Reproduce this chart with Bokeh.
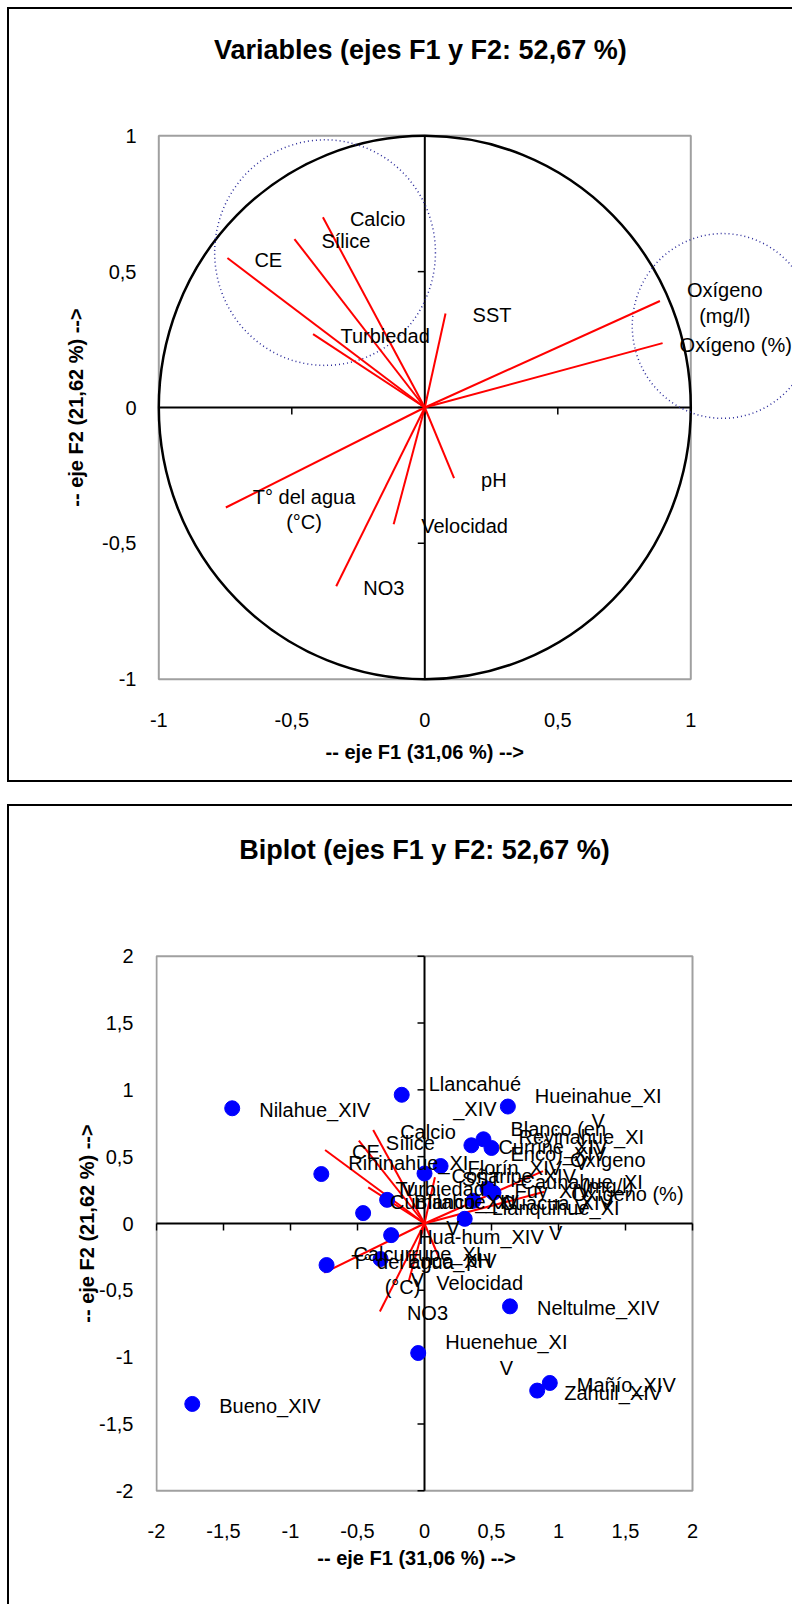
from bokeh.plotting import figure
from bokeh.models import Range1d, FixedTicker, ColumnDataSource, Title
from bokeh.layouts import column
from bokeh.embed import file_html
from bokeh.resources import INLINE
from bokeh.core.properties import value

# ---------------- data ----------------
var_names = ["CE", "Sílice", "Calcio", "Turbiedad", "SST", "Oxígeno (mg/l)",
             "Oxígeno (%)", "pH", "Velocidad", "NO3", "T° del agua (°C)"]
var_labels = ["CE", "Sílice", "Calcio", "Turbiedad", "SST", "Oxígeno\n(mg/l)",
              "Oxígeno (%)", "pH", "Velocidad", "NO3", "T° del agua\n(°C)"]
var_f1 = [-0.742, -0.49, -0.383, -0.42, 0.078, 0.884, 0.894, 0.11, -0.117, -0.333, -0.748]
var_f2 = [0.55, 0.62, 0.70, 0.27, 0.346, 0.392, 0.237, -0.26, -0.43, -0.658, -0.368]

obs_labels = ["Nilahue_XIV", "Llancahué\n_XIV", "Hueinahue_XI\nV", "Blanco (en\nEnco)_XIV",
              "Reyinahue_XI\nV", "Curriñe_XIV", "Florín_XIV", "Rininahue_XI\nV",
              "Coñaripe_XIV", "Caunahue_XI\nV", "Cuacua_XIV", "Llanquihue_XI\nV",
              "Blanco_XIV", "Cumilahue_XI\nV", "Hua-hum_XIV", "Calcurrupe_XI\nV",
              "Enco_XIV", "Neltulme_XIV", "Huenehue_XI\nV", "Mañío_XIV", "Zahuil_XIV",
              "Bueno_XIV", "Fuy_XIV"]
obs_f1 = [-1.435, -0.17, 0.622, 0.44, 0.50, 0.35, 0.12, -0.77,
          0.0, 0.515, 0.366, 0.30, -0.279, -0.458, -0.249, -0.731,
          -0.328, 0.638, -0.047, 0.935, 0.841, -1.733, 0.47]
obs_f2 = [0.862, 0.963, 0.875, 0.63, 0.565, 0.585, 0.43, 0.37,
          0.374, 0.23, 0.17, 0.035, 0.177, 0.078, -0.087, -0.311,
          -0.266, -0.62, -0.969, -1.193, -1.25, -1.35, 0.26]

# highlighted groups on the correlation circle (centre x, centre y, radius)
grp_x = [-0.375, 1.12]
grp_y = [0.57, 0.30]
grp_r = [0.415, 0.34]

ticks1 = [-1, -0.5, 0, 0.5, 1]
ticks2 = [-2, -1.5, -1, -0.5, 0, 0.5, 1, 1.5, 2]

title1 = "Variables (ejes F1  y F2: 52,67 %)"
title2 = "Biplot (ejes F1 y F2: 52,67 %)"
xlab = "-- eje F1 (31,06 %) -->"
ylab = "-- eje F2 (21,62 %) -->"

# ---------------- helpers ----------------
FONT = "Liberation Sans"
FS = 20
W = {' ': 278, '(': 333, ')': 333, '%': 889, ',': 278, '-': 333, '.': 278, '/': 278,
     ':': 278, '_': 556, '°': 400, 'í': 278, 'é': 556, 'ñ': 556, 'ú': 556, 'ó': 556, 'á': 556,
     'A': 667, 'B': 667, 'C': 722, 'D': 722, 'E': 667, 'F': 611, 'G': 778, 'H': 722, 'I': 278,
     'J': 500, 'K': 667, 'L': 556, 'M': 833, 'N': 722, 'O': 778, 'P': 667, 'Q': 778, 'R': 722,
     'S': 667, 'T': 611, 'U': 722, 'V': 667, 'W': 944, 'X': 667, 'Y': 667, 'Z': 611,
     'a': 556, 'b': 556, 'c': 500, 'd': 556, 'e': 556, 'f': 278, 'g': 556, 'h': 556, 'i': 222,
     'j': 222, 'k': 500, 'l': 222, 'm': 833, 'n': 556, 'o': 556, 'p': 556, 'q': 556, 'r': 333,
     's': 500, 't': 278, 'u': 556, 'v': 500, 'w': 722, 'x': 500, 'y': 500, 'z': 500}
WB = {' ': 278, '(': 333, ')': 333, '%': 889, ',': 278, '-': 333, ':': 333, '>': 584,
      'B': 722, 'F': 611, 'V': 667, 'a': 556, 'b': 611, 'e': 556, 'i': 278, 'j': 278,
      'l': 278, 'o': 611, 'p': 611, 'r': 389, 's': 556, 't': 333, 'y': 556}


def text_w(s, fs=FS):
    return max(sum(W.get(c, 556) for c in line) for line in s.split("\n")) * fs / 1000.0


def bold_w(s, fs):
    return sum(WB.get(c, 556) for c in s) * fs / 1000.0


def fmt(t):
    return ("%g" % t).replace(".", ",")


LABEL_GAP = 27  # px between a point / arrow tip and its label
FIG_W = 785
LEFT = 146
BORDER = "2px solid black"


def make_fig(height, xr, yr, borders, ticks, xstand, ystand, ylab_stand):
    t, b = borders
    p = figure(width=FIG_W, height=height, x_range=Range1d(*xr), y_range=Range1d(*yr),
               output_backend="svg", toolbar_location=None, title=None,
               min_border_left=LEFT, min_border_right=0, min_border_top=t, min_border_bottom=b)
    p.grid.visible = False
    p.outline_line_color = None
    for ax in (p.xaxis[0], p.yaxis[0]):
        ax.ticker = FixedTicker(ticks=ticks)
        ax.major_label_overrides = {tk: fmt(tk) for tk in ticks}
        ax.axis_line_color = None
        ax.major_tick_line_color = None
        ax.major_tick_out = 0
        ax.major_tick_in = 0
        ax.minor_tick_line_color = None
        ax.major_label_text_font = FONT
        ax.major_label_text_font_size = "%dpx" % FS
        ax.major_label_text_color = "black"
    p.xaxis.major_label_standoff = xstand
    p.yaxis.major_label_standoff = ystand
    p.yaxis.axis_label = ylab
    p.yaxis.axis_label_text_font = FONT
    p.yaxis.axis_label_text_font_size = "20px"
    p.yaxis.axis_label_text_font_style = "bold"
    p.yaxis.axis_label_text_color = "black"
    p.yaxis.axis_label_standoff = ylab_stand
    lo, hi = ticks[0], ticks[-1]
    p.quad(left=[lo], right=[hi], bottom=[lo], top=[hi], fill_color=None,
           line_color="#a0a0a0", line_width=2)
    return p


def add_titles(p, x0_px, title, gap_above, xlabel_center_px, xlstand):
    # empty spacer keeps the title away from the plot area
    p.add_layout(Title(text=" ", text_font_size="1px", standoff=gap_above - 3), "above")
    p.add_layout(Title(text=title, align="left", offset=x0_px - bold_w(title, 27) / 2.0,
                       standoff=10, text_font=FONT, text_font_size="27px",
                       text_font_style="bold", text_color="black"), "above")
    p.add_layout(Title(text=xlab, align="left",
                       offset=xlabel_center_px - bold_w(xlab, 20) / 2.0,
                       standoff=xlstand, text_font=FONT, text_font_size="20px",
                       text_font_style="bold", text_color="black"), "below")


def center_axes(p, ticks, pxu_x, pxu_y):
    lo, hi = ticks[0], ticks[-1]
    p.segment(x0=[lo, 0], y0=[0, lo], x1=[hi, 0], y1=[0, hi], line_color="black", line_width=2)
    tl_y = 7.0 / pxu_y
    tl_x = 7.0 / pxu_x
    p.segment(x0=ticks, y0=[0] * len(ticks), x1=ticks, y1=[-tl_y] * len(ticks),
              line_color="black", line_width=1.5)
    p.segment(x0=[0] * len(ticks), y0=ticks, x1=[-tl_x] * len(ticks), y1=ticks,
              line_color="black", line_width=1.5)


def labels(p, xs, ys, texts, gaps=None):
    if gaps is None:
        gaps = [LABEL_GAP] * len(texts)
    src = ColumnDataSource(dict(x=xs, y=ys, text=texts,
                                xo=[g + text_w(s) / 2.0 for g, s in zip(gaps, texts)]))
    p.text(x="x", y="y", text="text", source=src, x_offset="xo", y_offset=2,
           text_align="center", text_baseline="middle", text_font=value(FONT),
           text_font_size="%dpx" % FS, text_color="black", text_line_height=1.15)


def vectors(p):
    p.segment(x0=[0] * len(var_f1), y0=[0] * len(var_f2), x1=var_f1, y1=var_f2,
              line_color="red", line_width=2)


# ---------------- panel 1: correlation circle ----------------
px1 = 266.0
x1r = (-1.0124, -1.0124 + (FIG_W - LEFT) / px1)
p1 = make_fig(775, x1r, (-1.012, 1.012), (123, 102), ticks1, 30, 19, 12)
p1.margin = (7, 0, 0, 7)
p1.styles = {"border-left": BORDER, "border-top": BORDER, "border-bottom": BORDER}
center_axes(p1, ticks1, px1, 272)
p1.ellipse(x=[0], y=[0], width=[2], height=[2], fill_color=None, line_color="black",
           line_width=2.5)
p1.ellipse(x=grp_x, y=grp_y, width=[2 * r for r in grp_r], height=[2 * r for r in grp_r],
           fill_color=None, line_color="#2b2b9a", line_width=1.5, line_dash="1 3")
vectors(p1)
labels(p1, var_f1, var_f2, var_labels,
       [17 if s == "Oxígeno (%)" else LABEL_GAP for s in var_labels])
add_titles(p1, -x1r[0] * px1, title1, 63, -x1r[0] * px1, 18)

# ---------------- panel 2: biplot ----------------
px2 = 134.0
x2r = (-2.0075, -2.0075 + (FIG_W - LEFT) / px2)
p2 = make_fig(800, x2r, (-2.02, 2.02), (147, 113), ticks2, 30, 22, -2)
p2.margin = (0, 0, 0, 7)
p2.styles = {"border-left": BORDER, "border-top": BORDER}
center_axes(p2, ticks2, px2, 133.6)
vectors(p2)
p2.scatter(x=obs_f1, y=obs_f2, size=15, fill_color="blue", line_color="blue")
labels(p2, var_f1, var_f2, var_labels)
labels(p2, obs_f1, obs_f2, obs_labels)
add_titles(p2, -x2r[0] * px2, title2, 84, -x2r[0] * px2 - 8, 8)

layout = column(p1, p2, spacing=22)
open("out.html", "w").write(file_html(layout, INLINE))
